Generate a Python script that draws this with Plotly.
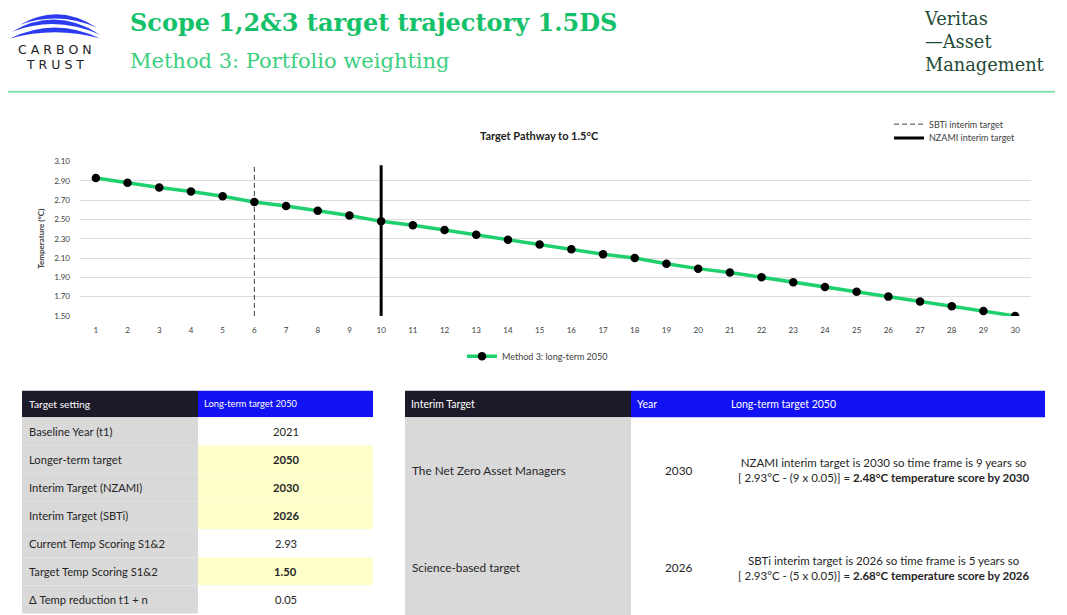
import plotly.graph_objects as go

# the page adds an 8px body margin, so the figure is drawn 8px smaller and
# positions below are expressed in screen pixels of the 1067x615 window
OFF = 8
W, H = 1067 - OFF, 615 - OFF

# ---------------- data ----------------
years_idx = list(range(1, 31))
temps = [2.93, 2.88, 2.83, 2.79, 2.74, 2.68, 2.64, 2.59, 2.54, 2.48,
         2.44, 2.39, 2.34, 2.29, 2.24, 2.19, 2.14, 2.10, 2.04, 1.99,
         1.95, 1.90, 1.85, 1.80, 1.75, 1.70, 1.65, 1.60, 1.55, 1.50]
y_ticks = [1.50, 1.70, 1.90, 2.10, 2.30, 2.50, 2.70, 2.90, 3.10]
sbti_x = [6, 6]
sbti_y = [1.50, 3.06]
nzami_x = [10, 10]
nzami_y = [1.50, 3.06]

left_header = ["Target setting", "Long-term target 2050"]
left_labels = ["Baseline Year (t1)", "Longer-term target", "Interim Target (NZAMI)",
               "Interim Target (SBTi)", "Current Temp Scoring S1&2",
               "Target Temp Scoring S1&2", "Δ Temp reduction t1 + n"]
left_values = ["2021", "2050", "2030", "2026", "2.93", "1.50", "0.05"]
left_highlight = [False, True, True, True, False, True, False]

right_header = ["Interim Target", "Year", "Long-term target 2050"]
right_names = ["The Net Zero Asset Managers", "Science-based target"]
right_years = ["2030", "2026"]
right_desc = [
    "NZAMI interim target is 2030 so time frame is 9 years so<br>[ 2.93°C - (9 x 0.05)] = <b>2.48°C temperature score by 2030</b>",
    "SBTi interim target is 2026 so time frame is 5 years so<br>[ 2.93°C - (5 x 0.05)] = <b>2.68°C temperature score by 2026</b>",
]


def px(x):
    return (x - OFF) / W


def py(y):
    return 1 - (y - OFF) / H


FONT = "Lato"
fig = go.Figure()

# ---------------- chart ----------------
fig.add_trace(go.Scatter(
    x=sbti_x, y=sbti_y, mode="lines", name="SBTi interim target",
    line=dict(color="#34463f", width=1, dash="5px,3px"), legend="legend2"))
fig.add_trace(go.Scatter(
    x=nzami_x, y=nzami_y, mode="lines", name="NZAMI interim target",
    line=dict(color="#000000", width=3), legend="legend3"))
fig.add_trace(go.Scatter(
    x=years_idx, y=temps, mode="lines+markers", name="Method 3: long-term 2050",
    line=dict(color="#1fd16e", width=3.5),
    marker=dict(color="#000000", size=8.5), legend="legend"))

leg_common = dict(bgcolor="rgba(0,0,0,0)", orientation="h", itemwidth=30,
                  font=dict(size=9, color="#404040", family=FONT))
fig.update_layout(
    width=W, height=H, margin=dict(l=0, r=0, t=0, b=0),
    paper_bgcolor="white", plot_bgcolor="white",
    font=dict(family=FONT, color="#404040"),
    showlegend=True,
    xaxis=dict(domain=[px(80), px(1031)], range=[0.5, 30.5],
               tickvals=years_idx, ticktext=[str(v) for v in years_idx],
               showgrid=False, zeroline=False, showline=False, ticks="",
               tickfont=dict(size=8, color="#404040", family=FONT),
               ticklabelstandoff=8, fixedrange=True),
    yaxis=dict(domain=[py(316), py(159)], range=[1.50, 3.10],
               tickvals=y_ticks, tickformat=".2f",
               showgrid=True, gridcolor="#dcdcdc", gridwidth=1,
               zeroline=False, showline=False, ticks="",
               tickfont=dict(size=8, color="#404040", family=FONT),
               ticklabelstandoff=9,
               title=dict(text="<b>Temperature (°C)</b>", standoff=8,
                          font=dict(size=8, color="#404040", family=FONT)),
               fixedrange=True),
    legend=dict(x=px(462), y=py(357), xanchor="left", yanchor="middle", **leg_common),
    legend2=dict(x=px(889), y=py(121), xanchor="left", yanchor="middle", **leg_common),
    legend3=dict(x=px(889), y=py(135), xanchor="left", yanchor="middle", **leg_common),
)

annotations = []
shapes = []


def text(x, y, s, size, color, family=FONT, xanchor="left", align="left"):
    annotations.append(dict(x=px(x), y=py(y), xref="paper", yref="paper", text=s,
                            showarrow=False, align=align,
                            font=dict(size=size, color=color, family=family),
                            xanchor=xanchor, yanchor="middle"))


# chart title
text(539, 133, "<b>Target Pathway to 1.5°C</b>", 11, "#222", xanchor="center")

# ---------------- header ----------------
text(128, 18, "<b>Scope 1,2&3 target trajectory 1.5DS</b>", 24, "#14c169", "DejaVu Serif")
text(128, 57, "Method 3: Portfolio weighting", 21, "#3ccf80", "DejaVu Serif")
text(922, 37, "Veritas<br>—Asset<br>Management", 17.8, "#1f4a36", "DejaVu Serif")
# carbon trust logo
text(55, 45, "C A R B O N", 12.5, "#222", "DejaVu Sans", xanchor="center")
text(55, 60, "T R U S T", 12.5, "#222", "DejaVu Sans", xanchor="center")


def crescent(x0, y0, x1, y1, xc, yo, yi):
    return (f"M {px(x0)},{py(y0)} Q {px(xc)},{py(yo)} {px(x1)},{py(y1)} "
            f"Q {px(xc)},{py(yi)} {px(x0)},{py(y0)} Z")


for args in [(20, 20, 97, 23, 58, -3, 6), (12, 27, 100, 30, 56, 1, 10),
             (10, 34, 100, 34, 55, 11.5, 21)]:
    shapes.append(dict(type="path", path=crescent(*args), xref="paper", yref="paper",
                       fillcolor="#2b3cf0", line=dict(width=0)))

# separator
shapes.append(dict(type="line", xref="paper", yref="paper", x0=px(8), x1=px(1055),
                   y0=py(88), y1=py(88), line=dict(color="#86e0b6", width=2)))

# ---------------- left table ----------------
LX = [22, 198, 373]
HT, HB = 392, 419
RH = 28.5
DARK, BLUE, GREY, YEL = "#1c1a28", "#1212f5", "#d9d9d9", "#ffffcc"


def rect(x0, y0, x1, y1, color):
    shapes.append(dict(type="rect", xref="paper", yref="paper", layer="below",
                       x0=px(x0), x1=px(x1), y0=py(y1), y1=py(y0),
                       fillcolor=color, line=dict(width=0)))


rect(LX[0], HT, LX[1], HB, DARK)
rect(LX[1], HT, LX[2], HB, BLUE)
text(LX[0] + 5, (HT + HB) / 2, left_header[0], 10.3, "white")
text(LX[1] + 4, (HT + HB) / 2, left_header[1], 9.3, "white")
for i, (lab, val, hl) in enumerate(zip(left_labels, left_values, left_highlight)):
    y0 = HB + i * RH
    y1 = y0 + RH
    rect(LX[0], y0, LX[1], y1, GREY)
    rect(LX[1], y0, LX[2], y1, YEL if hl else "white")
    yc = (y0 + y1) / 2
    text(LX[0] + 5, yc, lab, 11.2, "#262626")
    text((LX[1] + LX[2]) / 2, yc, f"<b>{val}</b>" if hl else val, 11.2, "#262626",
         xanchor="center")

# ---------------- right table ----------------
RX = [405, 631, 725, 1045]
rect(RX[0], HT, RX[1], HB, DARK)
rect(RX[1], HT, RX[3], HB, BLUE)
rect(RX[0], HB, RX[1], 640, GREY)
text(RX[0] + 4, (HT + HB) / 2, right_header[0], 10.5, "white")
text(RX[1] + 4, (HT + HB) / 2, right_header[1], 10.5, "white")
text(729, (HT + HB) / 2, right_header[2], 10.5, "white")
row_centers = [473, 572]
for name, yr, desc, yc in zip(right_names, right_years, right_desc, row_centers):
    text(RX[0] + 5, yc, name, 11.8, "#262626")
    text((RX[1] + RX[2]) / 2 + 1, yc, yr, 11.8, "#262626", xanchor="center")
    text((RX[2] + RX[3]) / 2 - 1, yc, desc, 11.5, "#262626", xanchor="center",
         align="center")

fig.update_layout(annotations=annotations, shapes=shapes)
fig.write_html("out.html")
